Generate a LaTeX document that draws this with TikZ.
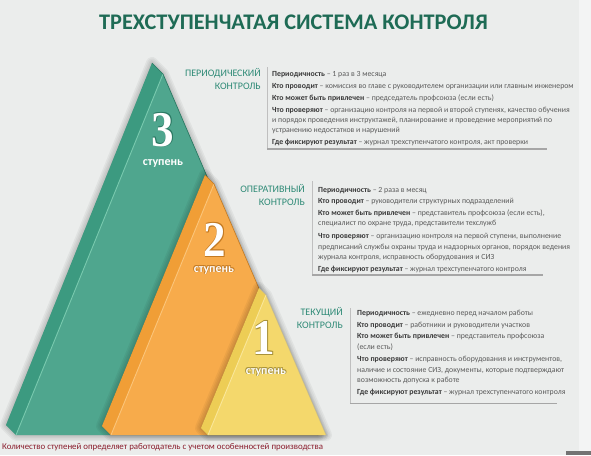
\documentclass[tikz,border=0pt]{standalone}
\usepackage{fontspec}
\setmainfont{Carlito}
\newfontfamily\numfont{Liberation Serif}
\definecolor{bg}{HTML}{EBEDEC}
\definecolor{bgr}{HTML}{F3F4F4}
\definecolor{titleg}{HTML}{1E6B55}
\definecolor{headg}{HTML}{2E8A76}
\definecolor{gface}{HTML}{4FA68E}
\definecolor{gside}{HTML}{3C9A80}
\definecolor{glight}{HTML}{78C9AE}
\definecolor{gdark}{HTML}{2C7A64}
\definecolor{oface}{HTML}{F7AB4B}
\definecolor{oside}{HTML}{F09E36}
\definecolor{olight}{HTML}{FCC57A}
\definecolor{odark}{HTML}{C47A22}
\definecolor{yface}{HTML}{F4D86C}
\definecolor{yside}{HTML}{EDCD55}
\definecolor{ylight}{HTML}{FAE79A}
\definecolor{ydark}{HTML}{A8923A}
\definecolor{keyc}{HTML}{3A3A3A}
\definecolor{txtc}{HTML}{5A5A5A}
\definecolor{footc}{HTML}{8A1C2C}
\newcommand\outl[3]{\leavevmode
  \rlap{\color{#1}\kern#2\raise#2\hbox{#3}}%
  \rlap{\color{#1}\kern-#2\raise#2\hbox{#3}}%
  \rlap{\color{#1}\kern#2\lower#2\hbox{#3}}%
  \rlap{\color{#1}\kern-#2\lower#2\hbox{#3}}%
  #3}
\newcommand\kk[1]{{\bfseries\color{keyc}#1}}
\newcommand\shad[1]{%
  \foreach \w in {12,9,6,3}{\draw[black,opacity=0.045,line width=\w pt,line join=round] #1;}
  \fill[black,opacity=0.14] #1;}
\begin{document}
\begin{tikzpicture}[x=1pt,y=-1pt,
  line/.style={font=\fontsize{7.8}{8}\selectfont, text=txtc, anchor=mid west, inner sep=0pt},
  head/.style={font=\fontsize{10}{10}\selectfont, text=headg, anchor=mid east, inner sep=0pt},
  digit/.style={font=\numfont\bfseries\fontsize{50}{50}\selectfont, text=white, inner sep=0pt, xscale=0.9},
  stup/.style={font=\bfseries\fontsize{12}{12}\selectfont, text=white, inner sep=0pt},
  boxl/.style={draw=black!25, line width=0.8pt},
  boxb/.style={draw=black!35, line width=1.4pt}]
\useasboundingbox (0,0) rectangle (591,455);
\fill[bg] (0,0) rectangle (591,455);
\fill[bgr] (579,0) rectangle (591,455);
\fill[black!55] (566,451) rectangle (591,455);

\node[font=\bfseries\fontsize{22.3}{22}\selectfont, text=titleg, inner sep=0pt] (title) at (293.5,22) {ТРЕХСТУПЕНЧАТАЯ СИСТЕМА КОНТРОЛЯ};

% coordinates
\coordinate (GA) at (152,63); \coordinate (GF) at (163,74);
\coordinate (GFL) at (16,435); \coordinate (GBL) at (6,425); \coordinate (GR) at (318,435);
\coordinate (OA) at (205,175); \coordinate (OF) at (214,184);
\coordinate (OFL) at (111,435); \coordinate (OBL) at (102,426); \coordinate (OR) at (322,435);
\coordinate (YA) at (259,288); \coordinate (YF) at (266,295);
\coordinate (YFL) at (208,435); \coordinate (YBL) at (201,428); \coordinate (YR) at (326,435);

% green
\begin{scope}[shift={(-3,4)}]\shad{(GA) -- (GF) -- (GR) -- (GFL) -- (GBL) -- cycle}\end{scope}
\fill[gside] (GA) -- (GF) -- (GFL) -- (GBL) -- cycle;
\fill[gface] (GF) -- (GR) -- (GFL) -- cycle;
\draw[glight, line width=0.9pt] (GF) -- (GFL);
\draw[gdark, line width=0.7pt] (GA) -- (GF) -- (GR);
% orange
\begin{scope}[shift={(-6,4)}]\shad{(OA) -- (OF) -- (OR) -- (OFL) -- (OBL) -- cycle}\end{scope}
\fill[oside] (OA) -- (OF) -- (OFL) -- (OBL) -- cycle;
\fill[oface] (OF) -- (OR) -- (OFL) -- cycle;
\draw[olight, line width=0.9pt] (OF) -- (OFL);
\draw[odark, line width=0.6pt] (OA) -- (OF) -- (OR);
% yellow
\begin{scope}[shift={(-6,4)}]\shad{(YA) -- (YF) -- (YR) -- (YFL) -- (YBL) -- cycle}\end{scope}
\fill[yside] (YA) -- (YF) -- (YFL) -- (YBL) -- cycle;
\fill[yface] (YF) -- (YR) -- (YFL) -- cycle;
\draw[ylight, line width=0.9pt] (YF) -- (YFL);
\draw[ydark!60, line width=0.5pt] (YA) -- (YF) -- (YR);

% numbers
\node[digit] (n3) at (163,130) {\outl{gdark}{0.5pt}{3}};
\node[stup] (s3) at (163,163) {ступень};
\node[digit] (n2) at (215,240) {\outl{odark}{0.6pt}{2}};
\node[stup] (s2) at (214,270) {\outl{odark}{0.6pt}{ступень}};
\node[digit] (n1) at (264,338) {\outl{ydark}{0.6pt}{1}};
\node[stup] (s1) at (266,372) {\outl{ydark}{0.6pt}{ступень}};

% box 1
\node[head] (h1a) at (261,74) {ПЕРИОДИЧЕСКИЙ};
\node[head] (h1b) at (261,87) {КОНТРОЛЬ};
\coordinate (b1t) at (267,67); \coordinate (b1c) at (267,149); \coordinate (b1r) at (547,149);
\draw[boxl] (b1t) -- (b1c);
\draw[boxb] (b1c) -- (b1r);
\node[line] (a1) at (272,74) {\kk{Периодичность} – 1 раз в 3 месяца};
\node[line] (a2) at (272,86) {\kk{Кто проводит} – комиссия во главе с руководителем организации или главным инженером};
\node[line] (a3) at (272,98) {\kk{Кто может быть привлечен} – председатель профсоюза (если есть)};
\node[line] (a4) at (272,110.5) {\kk{Что проверяют} – организацию контроля на первой и второй ступенях, качество обучения};
\node[line] (a5) at (272,120.5) {и порядок проведения инструктажей, планирование и проведение мероприятий по};
\node[line] (a6) at (272,130.5) {устранению недостатков и нарушений};
\node[line] (a7) at (272,142) {\kk{Где фиксируют результат} – журнал трехступенчатого контроля, акт проверки};

% box 2
\node[head] (h2a) at (305,190) {ОПЕРАТИВНЫЙ};
\node[head] (h2b) at (305,203) {КОНТРОЛЬ};
\coordinate (b2t) at (312,181); \coordinate (b2c) at (312,275); \coordinate (b2r) at (543,275);
\draw[boxl] (b2t) -- (b2c);
\draw[boxb] (b2c) -- (b2r);
\node[line] (c1) at (318,190) {\kk{Периодичность} – 2 раза в месяц};
\node[line] (c2) at (318,201.5) {\kk{Кто проводит} – руководители структурных подразделений};
\node[line] (c3) at (318,213) {\kk{Кто может быть привлечен} – представитель профсоюза (если есть),};
\node[line] (c4) at (318,223.5) {специалист по охране труда, представители техслужб};
\node[line] (c5) at (318,236.5) {\kk{Что проверяют} – организацию контроля на первой ступени, выполнение};
\node[line] (c6) at (318,247) {предписаний службы охраны труда и надзорных органов, порядок ведения};
\node[line] (c7) at (318,257.5) {журнала контроля, исправность оборудования и СИЗ};
\node[line] (c8) at (318,269) {\kk{Где фиксируют результат} – журнал трехступенчатого контроля};

% box 3
\node[head] (h3a) at (343,313.5) {ТЕКУЩИЙ};
\node[head] (h3b) at (343,326) {КОНТРОЛЬ};
\coordinate (b3t) at (350,308); \coordinate (b3c) at (350,403.5); \coordinate (b3r) at (557,403.5);
\draw[boxl] (b3t) -- (b3c);
\draw[boxb] (b3c) -- (b3r);
\node[line] (d1) at (357,313.5) {\kk{Периодичность} – ежедневно перед началом работы};
\node[line] (d2) at (357,325) {\kk{Кто проводит} – работники и руководители участков};
\node[line] (d3) at (357,336.5) {\kk{Кто может быть привлечен} – представитель профсоюза};
\node[line] (d4) at (357,347) {(если есть)};
\node[line] (d5) at (357,359.5) {\kk{Что проверяют} – исправность оборудования и инструментов,};
\node[line] (d6) at (357,370) {наличие и состояние СИЗ, документы, которые подтверждают};
\node[line] (d7) at (357,380.5) {возможность допуска к работе};
\node[line] (d8) at (357,392) {\kk{Где фиксируют результат} – журнал трехступенчатого контроля};

\node[font=\fontsize{8.85}{9}\selectfont, text=footc, anchor=mid west, inner sep=0pt] (foot) at (2,447) {Количество ступеней определяет работодатель с учетом особенностей производства};
\end{tikzpicture}
\end{document}
